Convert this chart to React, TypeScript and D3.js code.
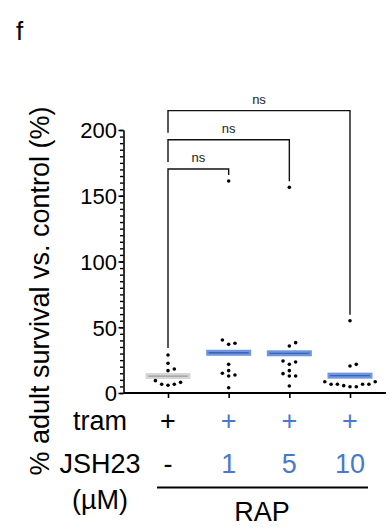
import React, { useEffect, useRef } from 'react';
import * as d3 from 'd3';

// values (% adult survival vs. control)
const groups = ['ctrl', 'jsh1', 'jsh5', 'jsh10'];
const ctrlValues = [28.9, 22.6, 17.0, 18.3, 8.1, 6.6, 9.4, 6.6, 5.9];
const jsh1Values = [161.2, 40.3, 37.0, 37.8, 21.8, 17.0, 13.7, 15.0, 12.9, 4.0];
const jsh5Values = [156.4, 38.3, 35.7, 23.6, 24.3, 21.8, 17.0, 14.7, 12.9, 12.9, 5.3];
const jsh10Values = [55.0, 21.8, 20.5, 8.6, 8.6, 6.6, 6.6, 6.6, 6.6, 5.6, 4.8, 4.8];
const meanValues = [12.9, 30.6, 30.2, 13.2];
const tramLabels = ['+', '+', '+', '+'];
const jshLabels = ['-', '1', '5', '10'];
const yTicks = [0, 50, 100, 150, 200];
const comparisons: [string, string][] = [
  ['ctrl', 'jsh1'],
  ['ctrl', 'jsh5'],
  ['ctrl', 'jsh10'],
];
const compLabels = ['ns', 'ns', 'ns'];

const FONT = '"Liberation Sans", Arial, Helvetica, sans-serif';
const BLUE = '#4a78cf';

function swarm(vals: number[], cx: number, y: d3.ScaleLinear<number, number>) {
  const placed: { x: number; y: number }[] = [];
  const step = 6.3;
  const minD = 5.2;
  [...vals].sort((a, b) => a - b).forEach(v => {
    const py = y(v);
    for (let k = 0; k < 20; k++) {
      const off = k === 0 ? 0 : (k % 2 ? 1 : -1) * Math.ceil(k / 2) * step;
      const px = cx + off;
      if (!placed.some(p => Math.hypot(p.x - px, p.y - py) < minD)) {
        placed.push({ x: px, y: py });
        break;
      }
    }
  });
  return placed;
}

function Chart() {
  const svgRef = useRef<SVGSVGElement>(null);

  useEffect(() => {
    document.body.style.margin = '0';
    const svg = d3.select(svgRef.current);
    svg.selectAll('*').remove();

    const series = [ctrlValues, jsh1Values, jsh5Values, jsh10Values];
    const x = d3.scalePoint<string>().domain(groups).range([168, 350]);
    const y = d3.scaleLinear().domain([0, 200]).range([393, 130]);
    const axisX = 123.5;

    const g = svg.append('g').attr('font-family', FONT);

    // panel letter
    g.append('text').attr('x', 16).attr('y', 40).attr('font-size', 26).text('f');

    // y axis: minor then major ticks
    const minor = g.append('g').attr('transform', `translate(${axisX},0)`)
      .call(d3.axisLeft(y).tickValues(d3.range(0, 201, 5)).tickSize(3.5).tickFormat(() => ''));
    minor.select('.domain').remove();
    minor.selectAll('line').attr('stroke', '#000').attr('stroke-width', 1.4);

    const major = g.append('g').attr('transform', `translate(${axisX},0)`)
      .call(d3.axisLeft(y).tickValues(yTicks).tickSize(5).tickSizeOuter(0).tickPadding(1.5));
    major.select('.domain').attr('stroke', '#000').attr('stroke-width', 1.6);
    major.selectAll('line').attr('stroke', '#000').attr('stroke-width', 1.6);
    major.selectAll('text').attr('font-size', 22).attr('font-family', FONT).attr('fill', '#000').attr('dy', '0.36em');

    // x axis
    const xa = g.append('g').attr('transform', `translate(0,${y(0)})`)
      .call(d3.axisBottom(x).tickSize(5).tickFormat(() => ''));
    xa.select('.domain').attr('d', `M${axisX},0H386`).attr('stroke', '#000').attr('stroke-width', 1.8);
    xa.selectAll('line').attr('stroke', '#000').attr('stroke-width', 1.6);

    // y title
    g.append('text')
      .attr('transform', `translate(49,291) rotate(-90)`)
      .attr('text-anchor', 'middle')
      .attr('font-size', 27)
      .text('% adult survival vs. control (%)');

    // mean bars
    groups.forEach((gr, i) => {
      const cx = x(gr)!;
      const light = i === 0 ? '#d6d6d6' : '#6e96de';
      const dark = i === 0 ? '#9a9a9a' : '#3b62b6';
      g.append('rect').attr('x', cx - 22.5).attr('y', y(meanValues[i]) - 3)
        .attr('width', 45).attr('height', 6).attr('fill', light);
      g.append('line').attr('x1', cx - 20).attr('x2', cx + 20)
        .attr('y1', y(meanValues[i])).attr('y2', y(meanValues[i]))
        .attr('stroke', dark).attr('stroke-width', 1.3);
    });

    // points
    groups.forEach((gr, i) => {
      g.append('g').selectAll('circle')
        .data(swarm(series[i], x(gr)!, y))
        .join('circle')
        .attr('cx', d => d.x).attr('cy', d => d.y).attr('r', 1.8).attr('fill', '#000');
    });

    // significance brackets
    const topOf = (gr: string) => y(d3.max(series[groups.indexOf(gr)])!);
    let level = Math.min(topOf(comparisons[0][0]), topOf(comparisons[0][1])) - 12;
    let prevLevel: number | null = null;
    comparisons.forEach(([a, b], i) => {
      const xa1 = x(a)!, xb = x(b)!;
      const leftEnd = prevLevel === null ? topOf(a) - 7 : prevLevel - 7;
      const rightEnd = topOf(b) - 6;
      g.append('path')
        .attr('d', `M${xa1},${leftEnd}V${level}H${xb}V${rightEnd}`)
        .attr('fill', 'none').attr('stroke', '#111').attr('stroke-width', 1.4);
      g.append('text')
        .attr('x', (xa1 + xb) / 2).attr('y', level - 7)
        .attr('text-anchor', 'middle').attr('font-size', 13).attr('fill', '#222')
        .text(compLabels[i]);
      prevLevel = level;
      level -= 29.2;
    });

    // condition table under the axis
    const rowX = 100;
    const fs = 27;
    g.append('text').attr('x', rowX).attr('y', 430).attr('text-anchor', 'middle').attr('font-size', fs).text('tram');
    g.append('text').attr('x', rowX).attr('y', 473).attr('text-anchor', 'middle').attr('font-size', fs).text('JSH23');
    g.append('text').attr('x', rowX).attr('y', 509).attr('text-anchor', 'middle').attr('font-size', fs).text('(µM)');
    groups.forEach((gr, i) => {
      const col = i === 0 ? '#000' : BLUE;
      g.append('text').attr('x', x(gr)!).attr('y', 430).attr('text-anchor', 'middle')
        .attr('font-size', fs).attr('fill', col).text(tramLabels[i]);
      g.append('text').attr('x', x(gr)!).attr('y', 473).attr('text-anchor', 'middle')
        .attr('font-size', fs).attr('fill', col).text(jshLabels[i]);
    });
    g.append('line').attr('x1', 157).attr('x2', 368).attr('y1', 487.5).attr('y2', 487.5)
      .attr('stroke', '#000').attr('stroke-width', 2);
    g.append('text').attr('x', 262).attr('y', 521).attr('text-anchor', 'middle').attr('font-size', fs).text('RAP');
  }, []);

  return <svg ref={svgRef} width={392} height={529} style={{ display: 'block', background: '#fff' }} />;
}

export default function App() {
  return <Chart />;
}
